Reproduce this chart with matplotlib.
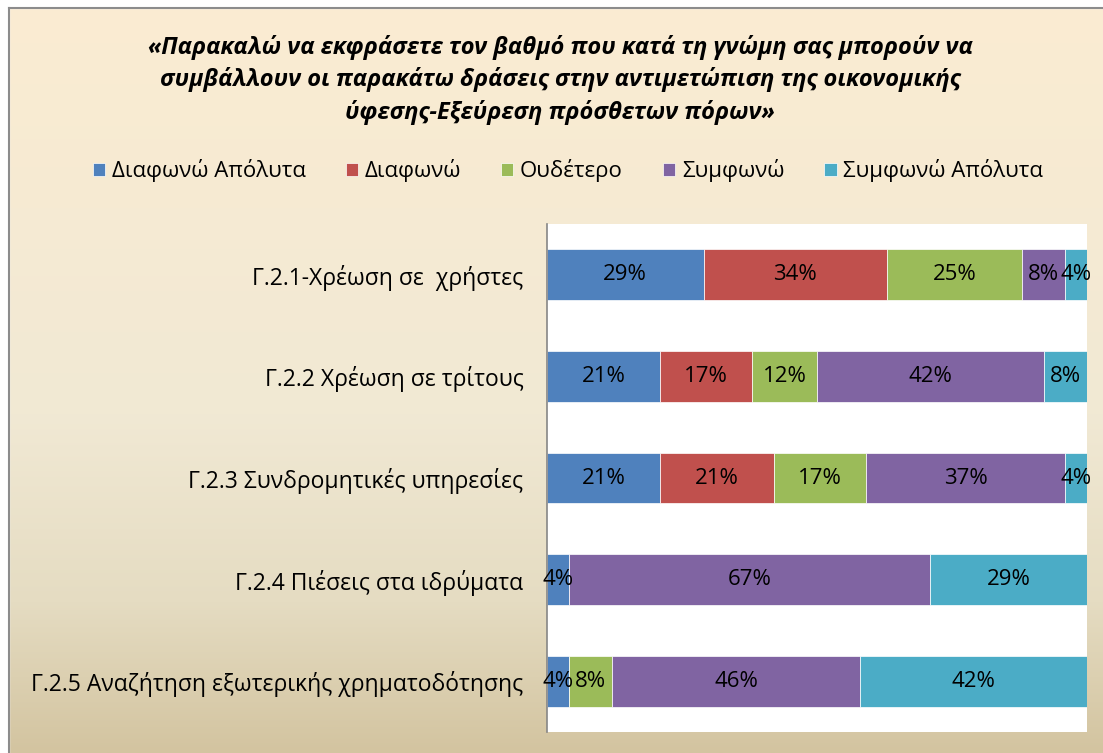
import numpy as np
import matplotlib
matplotlib.use('Agg')
import matplotlib.pyplot as plt
from matplotlib.colors import LinearSegmentedColormap
from matplotlib.patches import Rectangle

plt.rcParams['font.family'] = ['Open Sans', 'DejaVu Sans']

title = ('«Παρακαλώ να εκφράσετε τον βαθμό που κατά τη γνώμη σας μπορούν να\n'
         'συμβάλλουν οι παρακάτω δράσεις στην αντιμετώπιση της οικονομικής\n'
         'ύφεσης-Εξεύρεση πρόσθετων πόρων»')

categories = ['Γ.2.1-Χρέωση σε  χρήστες',
              'Γ.2.2 Χρέωση σε τρίτους',
              'Γ.2.3 Συνδρομητικές υπηρεσίες',
              'Γ.2.4 Πιέσεις στα ιδρύματα',
              'Γ.2.5 Αναζήτηση εξωτερικής χρηματοδότησης']

series_names = ['Διαφωνώ Απόλυτα', 'Διαφωνώ', 'Ουδέτερο', 'Συμφωνώ', 'Συμφωνώ Απόλυτα']

# percentages per category, one list per answer
diafono_apolyta = [29, 21, 21, 4, 4]
diafono = [34, 17, 21, 0, 0]
oudetero = [25, 12, 17, 0, 8]
symfono = [8, 42, 37, 67, 46]
symfono_apolyta = [4, 8, 4, 29, 42]

colors = ['#4F81BD', '#C0504D', '#9BBB59', '#8064A2', '#4BACC6']

fig = plt.figure(figsize=(11.03, 7.53), dpi=100)

# gradient background
bg = fig.add_axes([0, 0, 1, 1], zorder=0)
cmap = LinearSegmentedColormap.from_list(
    'parch', [(0.0, '#FBECD2'), (0.55, '#F1E9D4'), (0.8, '#E5DCC2'), (1.0, '#D3C4A0')])
grad = np.linspace(0, 1, 256).reshape(-1, 1)
bg.imshow(grad, aspect='auto', cmap=cmap, extent=[0, 1, 1, 0])
bg.set_xlim(0, 1)
bg.set_ylim(1, 0)
bg.axis('off')
# white strip and frame (chart is cropped at right/bottom)
bg.add_patch(Rectangle((0, 0), 9 / 1103, 1, color='white', zorder=2))
bg.add_patch(Rectangle((0, 0), 1, 8 / 753, color='white', zorder=2))
bg.plot([9 / 1103, 9 / 1103], [8 / 753, 1], color='#8C8C8C', lw=1.5, zorder=3)
bg.plot([9 / 1103, 1], [8 / 753, 8 / 753], color='#8C8C8C', lw=1.5, zorder=3)

ax = fig.add_axes([547 / 1103, 1 - 732 / 753, 540 / 1103, 508 / 753], zorder=1)
ax.set_facecolor('white')

data = [diafono_apolyta, diafono, oudetero, symfono, symfono_apolyta]
y = np.arange(len(categories))
left = np.zeros(len(categories))
for vals, name, c in zip(data, series_names, colors):
    vals = np.array(vals, dtype=float)
    bars = ax.barh(y, vals, left=left, height=0.5, color=c, label=name,
                   edgecolor='white', linewidth=0.5)
    for b, v in zip(bars, vals):
        if v > 0:
            ax.text(b.get_x() + b.get_width() / 2, b.get_y() + b.get_height() / 2,
                    f'{int(v)}%', ha='center', va='center', fontsize=16, color='black')
    left += vals

ax.set_xlim(0, 100)
ax.set_ylim(len(categories) - 0.5, -0.5)
ax.set_yticks(y)
ax.set_yticklabels(categories, fontsize=16.5)
ax.tick_params(axis='y', length=0, pad=17)
ax.set_xticks([])
for s in ['top', 'right', 'bottom']:
    ax.spines[s].set_visible(False)
ax.spines['left'].set_color('#868686')
ax.spines['left'].set_linewidth(1.2)

fig.text(0.508, 1 - 80 / 753, title, ha='center', va='center', fontsize=17,
         fontweight='bold', fontstyle='italic', linespacing=1.4)

fig.legend(loc='center', bbox_to_anchor=(0.515, 1 - 171 / 753), ncol=5, frameon=False,
           fontsize=16, handlelength=0.55, handleheight=0.55, handletextpad=0.3,
           columnspacing=1.8)

fig.savefig('out.png', dpi=100)
